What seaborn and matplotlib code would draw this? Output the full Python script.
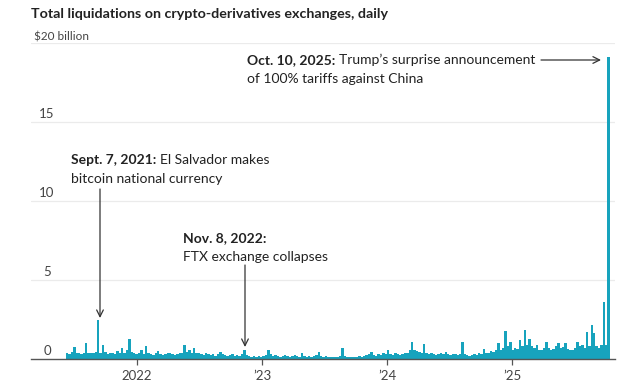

import matplotlib
matplotlib.use("Agg")
import matplotlib.dates as mdates
import matplotlib.pyplot as plt
import pandas as pd
import seaborn as sns

# first week shown and the weekly totals, $ billion
first_week = "2021-06-07"
liquidations_bn = [
    0.35, 0.30, 0.45, 0.78, 0.40, 0.35, 0.30, 0.40, 1.03, 0.35,   # 0
    0.40, 0.35, 0.45, 2.50, 0.40, 0.90, 0.45, 0.30, 0.35, 0.40,   # 10
    0.30, 0.53, 0.35, 0.67, 0.40, 0.60, 1.27, 0.45, 0.35, 0.30,   # 20
    0.40, 0.55, 0.30, 0.80, 0.35, 0.30, 0.25, 0.35, 0.50, 0.30,   # 30
    0.25, 0.30, 0.35, 0.36, 0.30, 0.25, 0.30, 0.35, 0.40, 0.88,   # 40
    0.45, 0.60, 0.40, 0.70, 0.35, 0.40, 0.30, 0.25, 0.35, 0.30,   # 50
    0.25, 0.30, 0.20, 0.30, 0.47, 0.30, 0.25, 0.20, 0.25, 0.30,   # 60
    0.20, 0.25, 0.20, 0.30, 0.60, 0.25, 0.20, 0.15, 0.20, 0.15,   # 70
    0.20, 0.15, 0.20, 0.25, 0.55, 0.30, 0.20, 0.25, 0.20, 0.15,   # 80
    0.20, 0.25, 0.20, 0.15, 0.20, 0.25, 0.20, 0.15, 0.35, 0.20,   # 90
    0.15, 0.20, 0.15, 0.20, 0.25, 0.45, 0.20, 0.15, 0.20, 0.15,   # 100
    0.12, 0.15, 0.12, 0.15, 0.20, 0.70, 0.20, 0.15, 0.12, 0.15,   # 110
    0.12, 0.15, 0.20, 0.15, 0.20, 0.25, 0.30, 0.42, 0.25, 0.20,   # 120
    0.30, 0.25, 0.40, 0.30, 0.60, 0.30, 0.25, 0.35, 0.30, 0.25,   # 130
    0.30, 0.35, 0.40, 0.60, 1.10, 0.55, 0.50, 0.45, 0.40, 0.93,   # 140
    0.40, 0.30, 0.35, 0.30, 0.25, 0.30, 0.35, 0.30, 0.45, 0.30,   # 150
    0.25, 0.30, 0.30, 0.25, 0.30, 1.05, 0.30, 0.25, 0.20, 0.25,   # 160
    0.30, 0.25, 0.35, 0.30, 0.65, 0.35, 0.40, 0.50, 0.45, 0.55,   # 170
    1.00, 0.60, 0.70, 1.75, 0.80, 1.10, 0.60, 0.70, 0.65, 1.20,   # 180
    0.80, 1.85, 0.90, 1.27, 0.80, 0.70, 0.90, 0.60, 0.55, 0.70,   # 190
    1.10, 0.70, 0.60, 0.65, 0.80, 1.00, 0.70, 0.75, 1.00, 0.65,   # 200
    0.55, 0.60, 0.70, 1.10, 0.80, 0.90, 0.70, 1.73, 0.85, 2.15,   # 210
    1.67, 0.80, 0.70, 0.90, 3.60, 0.90, 19.10,                    # 220
]
year_ticks = ["2022-01-01", "2023-01-01", "2024-01-01", "2025-01-01"]
year_labels = ["2022", "’23", "’24", "’25"]
y_ticks = [0, 5, 10, 15, 20]
y_labels = ["0", "5", "10", "15", "$20 billion"]

TEAL = "#17a3bd"
INK = "#222222"
W, H = 624, 383

sns.set_theme(style="white")
plt.rcParams["font.family"] = ["Lato", "DejaVu Sans"]

weeks = pd.date_range(first_week, periods=len(liquidations_bn), freq="7D")
edges = [float(e) for e in mdates.date2num(list(weeks) + [weeks[-1] + pd.Timedelta(days=7)])]
centers = mdates.date2num(weeks) + 3.5
df = pd.DataFrame({"day": centers, "bn": liquidations_bn})

fig = plt.figure(figsize=(W / 100, H / 100), dpi=100)
ax = fig.add_axes([31 / W, 24 / H, (615 - 31) / W, (359 - 43) / H])

sns.histplot(data=df, x="day", weights="bn", bins=edges, color=TEAL,
             alpha=1, linewidth=0, ax=ax)

ax.set_xlim(mdates.date2num(pd.Timestamp("2021-02-25")),
            mdates.date2num(pd.Timestamp("2025-10-28")))
ax.set_ylim(0, 20)
ax.set_xlabel("")
ax.set_ylabel("")
for s in ["top", "left", "right"]:
    ax.spines[s].set_visible(False)
ax.spines["bottom"].set_color("#555555")
ax.spines["bottom"].set_linewidth(1.0)

ax.set_yticks(y_ticks)
ax.set_yticklabels([])
ax.tick_params(axis="y", length=0)
for v in y_ticks[1:]:
    ax.axhline(v, color="#ebebeb", lw=0.9, zorder=0)

ax.set_xticks(mdates.date2num(pd.to_datetime(year_ticks)))
ax.set_xticklabels(year_labels, fontsize=9.5, color="#444444")
ax.tick_params(axis="x", length=4, width=0.9, color="#555555", pad=4, bottom=True)

# y labels sit above their gridlines
for v, lab in zip(y_ticks, y_labels):
    if v == 20:
        fig.text(34 / W, 1 - 40 / H, lab, fontsize=8.5, color="#444444")
    else:
        y_px = 359 - v * (316 / 20) - 4
        fig.text(47 / W, 1 - y_px / H, lab, fontsize=9.5, color="#444444", ha="center")

fig.text(31 / W, 1 - 18 / H, "Total liquidations on crypto-derivatives exchanges, daily",
         fontsize=10.3, weight="bold", color=INK)

renderer = fig.canvas.get_renderer()


def note(x, y, bold, rest, second):
    t = fig.text(x / W, 1 - y / H, bold, fontsize=10, weight="bold", color=INK)
    bb = t.get_window_extent(renderer)
    fig.text(bb.x1 / W + 3.5 / W, 1 - y / H, rest, fontsize=10, color=INK)
    fig.text(x / W, 1 - (y + 19) / H, second, fontsize=10, color=INK)


note(247, 64, "Oct. 10, 2025:", "Trump’s surprise announcement", "of 100% tariffs against China")
note(71, 164, "Sept. 7, 2021:", "El Salvador makes", "bitcoin national currency")
note(183, 242, "Nov. 8, 2022:", "", "FTX exchange collapses")

arrow = dict(arrowstyle="->", color="#333333", lw=0.9, shrinkA=0, shrinkB=0)
ax.annotate("", xy=(601, H - 60), xycoords="figure pixels",
            xytext=(541, H - 60), textcoords="figure pixels", arrowprops=arrow)
ax.annotate("", xy=(100, H - 318), xycoords="figure pixels",
            xytext=(100, H - 189), textcoords="figure pixels", arrowprops=arrow)
ax.annotate("", xy=(245, H - 347), xycoords="figure pixels",
            xytext=(245, H - 265), textcoords="figure pixels", arrowprops=arrow)

fig.savefig("out.png", dpi=100)
